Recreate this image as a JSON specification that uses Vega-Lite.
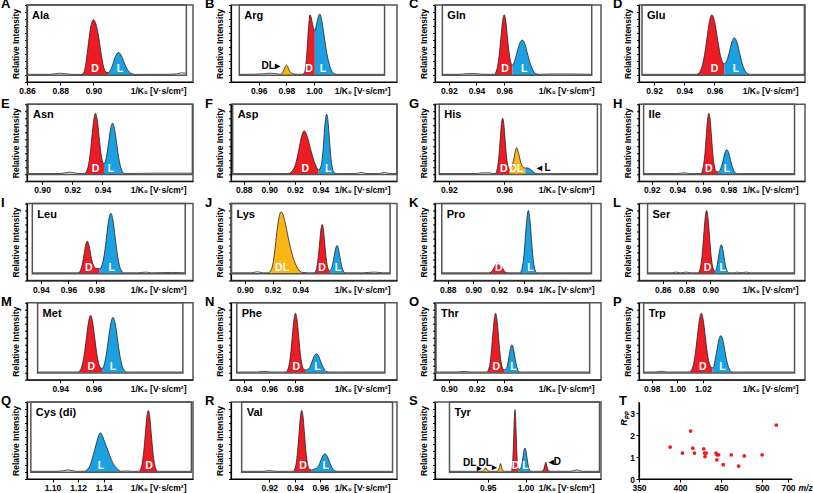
{
"$schema":"https://vega.github.io/schema/vega-lite/v6.json",
"background":"white",
"padding":{"left":0,"top":-3,"right":0,"bottom":0},
"config":{
 "font":"Liberation Sans",
 "view":{"stroke":"#555","strokeWidth":1.5},
 "axis":{"domain":true,"domainColor":"#000","domainWidth":1.2,"tickColor":"#000","labelColor":"#000","titleColor":"#000","labelFontWeight":"bold","titleFontWeight":"bold","labelFontSize":8.5,"titleFontSize":8.5,"grid":false,"labelFont":"Liberation Sans","titleFont":"Liberation Sans"},
 "axisX":{"tickSize":3,"labelPadding":1.5,"titleX":159,"titleY":4.5,"titleAlign":"right","titleBaseline":"top","labelFlush":false},
 "axisY":{"labels":false,"tickSize":2.5,"tickCount":11,"titlePadding":4},
 "title":{"fontSize":13,"fontWeight":"bold","font":"Liberation Sans","anchor":"start","frame":"group","dx":-26,"offset":-7,"baseline":"alphabetic","color":"#000"},
 "text":{"font":"Liberation Sans","fontWeight":"bold"},
 "rect":{"fillOpacity":0,"stroke":"#555","strokeWidth":1.5}
},
"columns":4,
"spacing":{"row":22.25,"column":38},
"bounds":"flush",
"resolve":{"scale":{"x":"independent","y":"independent"}},
"datasets":{
"tr":[
{"p":"A","x":0.86,"y":1},{"p":"A","x":0.874,"y":1},{"p":"A","x":0.88,"y":2.5},{"p":"A","x":0.886,"y":1},{"p":"A","x":0.8925,"y":0.8},
{"p":"A","x":0.8925,"y":0.8,"s":"D"},{"p":"A","x":0.894,"y":3,"s":"D"},{"p":"A","x":0.8955,"y":17,"s":"D"},{"p":"A","x":0.897,"y":45,"s":"D"},{"p":"A","x":0.8985,"y":70,"s":"D"},{"p":"A","x":0.9,"y":79,"s":"D"},{"p":"A","x":0.9015,"y":73,"s":"D"},{"p":"A","x":0.903,"y":57,"s":"D"},{"p":"A","x":0.9045,"y":33,"s":"D"},{"p":"A","x":0.906,"y":13,"s":"D"},{"p":"A","x":0.9075,"y":4.5,"s":"D"},{"p":"A","x":0.9088,"y":3.5,"s":"D"},
{"p":"A","x":0.9088,"y":3.5,"s":"L"},{"p":"A","x":0.91,"y":6,"s":"L"},{"p":"A","x":0.9115,"y":14,"s":"L"},{"p":"A","x":0.913,"y":25,"s":"L"},{"p":"A","x":0.9152,"y":32,"s":"L"},{"p":"A","x":0.9172,"y":26,"s":"L"},{"p":"A","x":0.919,"y":15,"s":"L"},{"p":"A","x":0.921,"y":6,"s":"L"},{"p":"A","x":0.923,"y":2,"s":"L"},{"p":"A","x":0.925,"y":0.8,"s":"L"},
{"p":"A","x":0.935,"y":1},{"p":"A","x":0.946,"y":1},{"p":"A","x":0.95,"y":1.5},{"p":"A","x":0.953,"y":3},{"p":"A","x":0.956,"y":2.5},

{"p":"B","x":0.946,"y":1},{"p":"B","x":0.955,"y":1},{"p":"B","x":0.962,"y":1.5},{"p":"B","x":0.968,"y":2.5},{"p":"B","x":0.974,"y":1.5},
{"p":"B","x":0.9757,"y":1,"s":"DL"},{"p":"B","x":0.977,"y":2.5,"s":"DL"},{"p":"B","x":0.978,"y":6,"s":"DL"},{"p":"B","x":0.979,"y":11,"s":"DL"},{"p":"B","x":0.98,"y":14,"s":"DL"},{"p":"B","x":0.981,"y":12,"s":"DL"},{"p":"B","x":0.982,"y":7,"s":"DL"},{"p":"B","x":0.9835,"y":3,"s":"DL"},{"p":"B","x":0.9855,"y":1.5,"s":"DL"},{"p":"B","x":0.9875,"y":1,"s":"DL"},
{"p":"B","x":0.9915,"y":1,"s":"D"},{"p":"B","x":0.9932,"y":4,"s":"D"},{"p":"B","x":0.9947,"y":28,"s":"D"},{"p":"B","x":0.9957,"y":58,"s":"D"},{"p":"B","x":0.9964,"y":76,"s":"D"},{"p":"B","x":0.997,"y":86,"s":"D"},{"p":"B","x":0.998,"y":82,"s":"D"},{"p":"B","x":0.9992,"y":70,"s":"D"},{"p":"B","x":1.0006,"y":63,"s":"D"},
{"p":"B","x":1.0006,"y":63,"s":"L"},{"p":"B","x":1.002,"y":74,"s":"L"},{"p":"B","x":1.0034,"y":85,"s":"L"},{"p":"B","x":1.0043,"y":87,"s":"L"},{"p":"B","x":1.0055,"y":79,"s":"L"},{"p":"B","x":1.007,"y":60,"s":"L"},{"p":"B","x":1.0085,"y":40,"s":"L"},{"p":"B","x":1.0102,"y":22,"s":"L"},{"p":"B","x":1.0123,"y":8,"s":"L"},{"p":"B","x":1.0145,"y":2,"s":"L"},{"p":"B","x":1.016,"y":1,"s":"L"},
{"p":"B","x":1.03,"y":1},{"p":"B","x":1.051,"y":1},

{"p":"C","x":0.9153,"y":1},{"p":"C","x":0.928,"y":1},{"p":"C","x":0.933,"y":2},{"p":"C","x":0.9395,"y":2},{"p":"C","x":0.944,"y":1},
{"p":"C","x":0.9528,"y":1,"s":"D"},{"p":"C","x":0.954,"y":4,"s":"D"},{"p":"C","x":0.9552,"y":12,"s":"D"},{"p":"C","x":0.9564,"y":28,"s":"D"},{"p":"C","x":0.9576,"y":52,"s":"D"},{"p":"C","x":0.9588,"y":76,"s":"D"},{"p":"C","x":0.96,"y":86,"s":"D"},{"p":"C","x":0.9612,"y":77,"s":"D"},{"p":"C","x":0.9624,"y":53,"s":"D"},{"p":"C","x":0.9636,"y":31,"s":"D"},{"p":"C","x":0.9648,"y":18,"s":"D"},{"p":"C","x":0.966,"y":14,"s":"D"},
{"p":"C","x":0.966,"y":14,"s":"L"},{"p":"C","x":0.9672,"y":18,"s":"L"},{"p":"C","x":0.9691,"y":31,"s":"L"},{"p":"C","x":0.971,"y":44,"s":"L"},{"p":"C","x":0.973,"y":50,"s":"L"},{"p":"C","x":0.975,"y":44,"s":"L"},{"p":"C","x":0.9769,"y":30,"s":"L"},{"p":"C","x":0.9789,"y":16,"s":"L"},{"p":"C","x":0.9808,"y":7,"s":"L"},{"p":"C","x":0.9828,"y":2,"s":"L"},{"p":"C","x":0.9848,"y":1,"s":"L"},
{"p":"C","x":0.995,"y":1.5},{"p":"C","x":1.005,"y":1.5},{"p":"C","x":1.0233,"y":1},

{"p":"D","x":0.912,"y":1},{"p":"D","x":0.93,"y":1},
{"p":"D","x":0.9484,"y":1,"s":"D"},{"p":"D","x":0.95005,"y":3.8,"s":"D"},{"p":"D","x":0.9517,"y":11.6,"s":"D"},{"p":"D","x":0.95335,"y":28,"s":"D"},{"p":"D","x":0.955,"y":52,"s":"D"},{"p":"D","x":0.95665,"y":76,"s":"D"},{"p":"D","x":0.9583,"y":86,"s":"D"},{"p":"D","x":0.96015,"y":76,"s":"D"},{"p":"D","x":0.962,"y":52,"s":"D"},{"p":"D","x":0.96385,"y":29,"s":"D"},{"p":"D","x":0.9657,"y":17,"s":"D"},{"p":"D","x":0.9665,"y":16,"s":"D"},
{"p":"D","x":0.9665,"y":16,"s":"L"},{"p":"D","x":0.9681,"y":20,"s":"L"},{"p":"D","x":0.9698,"y":32,"s":"L"},{"p":"D","x":0.9715,"y":47,"s":"L"},{"p":"D","x":0.9732,"y":53,"s":"L"},{"p":"D","x":0.9749,"y":47,"s":"L"},{"p":"D","x":0.9766,"y":32,"s":"L"},{"p":"D","x":0.9783,"y":17,"s":"L"},{"p":"D","x":0.98,"y":7,"s":"L"},{"p":"D","x":0.9817,"y":2.3,"s":"L"},{"p":"D","x":0.9834,"y":1,"s":"L"},
{"p":"D","x":1.0,"y":1},{"p":"D","x":1.0196,"y":1},

{"p":"E","x":0.8907,"y":1},{"p":"E","x":0.912,"y":1},{"p":"E","x":0.9185,"y":3},{"p":"E","x":0.924,"y":1},
{"p":"E","x":0.9282,"y":1,"s":"D"},{"p":"E","x":0.9294,"y":3.8,"s":"D"},{"p":"E","x":0.9306,"y":12,"s":"D"},{"p":"E","x":0.9318,"y":28,"s":"D"},{"p":"E","x":0.933,"y":53,"s":"D"},{"p":"E","x":0.9342,"y":77,"s":"D"},{"p":"E","x":0.9354,"y":87,"s":"D"},{"p":"E","x":0.9366,"y":77,"s":"D"},{"p":"E","x":0.9378,"y":53,"s":"D"},{"p":"E","x":0.939,"y":30,"s":"D"},{"p":"E","x":0.9402,"y":17,"s":"D"},{"p":"E","x":0.941,"y":15,"s":"D"},
{"p":"E","x":0.941,"y":15,"s":"L"},{"p":"E","x":0.9426,"y":24,"s":"L"},{"p":"E","x":0.944,"y":44,"s":"L"},{"p":"E","x":0.94535,"y":64,"s":"L"},{"p":"E","x":0.9467,"y":73,"s":"L"},{"p":"E","x":0.94805,"y":64,"s":"L"},{"p":"E","x":0.9494,"y":44,"s":"L"},{"p":"E","x":0.95075,"y":24,"s":"L"},{"p":"E","x":0.9521,"y":10,"s":"L"},{"p":"E","x":0.95345,"y":3,"s":"L"},{"p":"E","x":0.9548,"y":1,"s":"L"},
{"p":"E","x":0.975,"y":1.5},{"p":"E","x":0.9996,"y":1.5},

{"p":"F","x":0.8713,"y":1},{"p":"F","x":0.905,"y":1},
{"p":"F","x":0.9154,"y":1,"s":"D"},{"p":"F","x":0.918,"y":5,"s":"D"},{"p":"F","x":0.9205,"y":14,"s":"D"},{"p":"F","x":0.923,"y":34,"s":"D"},{"p":"F","x":0.925,"y":52,"s":"D"},{"p":"F","x":0.9274,"y":62,"s":"D"},{"p":"F","x":0.9295,"y":55,"s":"D"},{"p":"F","x":0.932,"y":38,"s":"D"},{"p":"F","x":0.9345,"y":22,"s":"D"},{"p":"F","x":0.937,"y":10,"s":"D"},{"p":"F","x":0.9385,"y":6,"s":"D"},
{"p":"F","x":0.9385,"y":6,"s":"L"},{"p":"F","x":0.9407,"y":13,"s":"L"},{"p":"F","x":0.9418,"y":28,"s":"L"},{"p":"F","x":0.9428,"y":52,"s":"L"},{"p":"F","x":0.94385,"y":76,"s":"L"},{"p":"F","x":0.9449,"y":86,"s":"L"},{"p":"F","x":0.94595,"y":76,"s":"L"},{"p":"F","x":0.947,"y":52,"s":"L"},{"p":"F","x":0.948,"y":28,"s":"L"},{"p":"F","x":0.9491,"y":12,"s":"L"},{"p":"F","x":0.9502,"y":4,"s":"L"},{"p":"F","x":0.9525,"y":1,"s":"L"},
{"p":"F","x":0.968,"y":1},{"p":"F","x":0.9718,"y":2.5},{"p":"F","x":0.976,"y":1},{"p":"F","x":0.986,"y":1},{"p":"F","x":0.99,"y":2.5},{"p":"F","x":0.994,"y":1},{"p":"F","x":1.0,"y":1},

{"p":"G","x":0.9131,"y":1},{"p":"G","x":0.94,"y":1},{"p":"G","x":0.944,"y":2},{"p":"G","x":0.949,"y":2},{"p":"G","x":0.952,"y":1},
{"p":"G","x":0.9535,"y":1,"s":"D"},{"p":"G","x":0.9544,"y":3.5,"s":"D"},{"p":"G","x":0.9553,"y":11,"s":"D"},{"p":"G","x":0.9562,"y":26,"s":"D"},{"p":"G","x":0.9571,"y":49,"s":"D"},{"p":"G","x":0.958,"y":71,"s":"D"},{"p":"G","x":0.9589,"y":80,"s":"D"},{"p":"G","x":0.9598,"y":71,"s":"D"},{"p":"G","x":0.9607,"y":49,"s":"D"},{"p":"G","x":0.9616,"y":27,"s":"D"},{"p":"G","x":0.9625,"y":14,"s":"D"},{"p":"G","x":0.9634,"y":8,"s":"D"},{"p":"G","x":0.964,"y":6,"s":"D"},
{"p":"G","x":0.964,"y":6,"s":"DL"},{"p":"G","x":0.9652,"y":9,"s":"DL"},{"p":"G","x":0.9663,"y":16,"s":"DL"},{"p":"G","x":0.9674,"y":26,"s":"DL"},{"p":"G","x":0.9682,"y":34,"s":"DL"},{"p":"G","x":0.9689,"y":38,"s":"DL"},{"p":"G","x":0.9697,"y":35,"s":"DL"},{"p":"G","x":0.9708,"y":27,"s":"DL"},{"p":"G","x":0.972,"y":17,"s":"DL"},{"p":"G","x":0.9732,"y":11,"s":"DL"},{"p":"G","x":0.9745,"y":9,"s":"DL"},{"p":"G","x":0.9753,"y":9,"s":"DL"},
{"p":"G","x":0.9753,"y":9,"s":"L"},{"p":"G","x":0.977,"y":9,"s":"L"},{"p":"G","x":0.979,"y":7,"s":"L"},{"p":"G","x":0.981,"y":3.5,"s":"L"},{"p":"G","x":0.983,"y":1,"s":"L"},{"p":"G","x":0.985,"y":0.7,"s":"L"},
{"p":"G","x":1.0,"y":1},{"p":"G","x":1.0274,"y":1},

{"p":"H","x":0.9136,"y":1},{"p":"H","x":0.94,"y":1},{"p":"H","x":0.9452,"y":2},{"p":"H","x":0.95,"y":1},
{"p":"H","x":0.9584,"y":1,"s":"D"},{"p":"H","x":0.95945,"y":4,"s":"D"},{"p":"H","x":0.9605,"y":12.6,"s":"D"},{"p":"H","x":0.96155,"y":28,"s":"D"},{"p":"H","x":0.9626,"y":53,"s":"D"},{"p":"H","x":0.96365,"y":77,"s":"D"},{"p":"H","x":0.9647,"y":87,"s":"D"},{"p":"H","x":0.96575,"y":77,"s":"D"},{"p":"H","x":0.9668,"y":53,"s":"D"},{"p":"H","x":0.96785,"y":28,"s":"D"},{"p":"H","x":0.9689,"y":13,"s":"D"},{"p":"H","x":0.96995,"y":5.5,"s":"D"},{"p":"H","x":0.971,"y":3.5,"s":"D"},{"p":"H","x":0.972,"y":3,"s":"D"},
{"p":"H","x":0.972,"y":3,"s":"L"},{"p":"H","x":0.9732,"y":5,"s":"L"},{"p":"H","x":0.9746,"y":11.4,"s":"L"},{"p":"H","x":0.976,"y":21,"s":"L"},{"p":"H","x":0.9774,"y":31,"s":"L"},{"p":"H","x":0.9788,"y":35,"s":"L"},{"p":"H","x":0.9802,"y":31,"s":"L"},{"p":"H","x":0.9816,"y":21,"s":"L"},{"p":"H","x":0.983,"y":11.4,"s":"L"},{"p":"H","x":0.9844,"y":4.7,"s":"L"},{"p":"H","x":0.9858,"y":1.5,"s":"L"},{"p":"H","x":0.9872,"y":1,"s":"L"},
{"p":"H","x":1.0,"y":1},{"p":"H","x":1.0318,"y":1},

{"p":"I","x":0.93385,"y":1},{"p":"I","x":0.96,"y":1},
{"p":"I","x":0.9667,"y":1,"s":"D"},{"p":"I","x":0.96785,"y":2,"s":"D"},{"p":"I","x":0.969,"y":6.2,"s":"D"},{"p":"I","x":0.97015,"y":15,"s":"D"},{"p":"I","x":0.9713,"y":28,"s":"D"},{"p":"I","x":0.97245,"y":41,"s":"D"},{"p":"I","x":0.9736,"y":46,"s":"D"},{"p":"I","x":0.97475,"y":41,"s":"D"},{"p":"I","x":0.9759,"y":29,"s":"D"},{"p":"I","x":0.977,"y":18,"s":"D"},{"p":"I","x":0.9785,"y":10,"s":"D"},{"p":"I","x":0.98,"y":7,"s":"D"},{"p":"I","x":0.9825,"y":7,"s":"D"},
{"p":"I","x":0.9825,"y":7,"s":"L"},{"p":"I","x":0.9844,"y":13,"s":"L"},{"p":"I","x":0.98595,"y":28,"s":"L"},{"p":"I","x":0.9875,"y":52,"s":"L"},{"p":"I","x":0.98905,"y":76,"s":"L"},{"p":"I","x":0.9906,"y":86,"s":"L"},{"p":"I","x":0.99215,"y":76,"s":"L"},{"p":"I","x":0.9937,"y":52,"s":"L"},{"p":"I","x":0.99525,"y":28,"s":"L"},{"p":"I","x":0.9968,"y":11.6,"s":"L"},{"p":"I","x":0.99835,"y":3.8,"s":"L"},{"p":"I","x":0.9999,"y":1,"s":"L"},
{"p":"I","x":1.01,"y":1},{"p":"I","x":1.016,"y":2},{"p":"I","x":1.02,"y":1},{"p":"I","x":1.035,"y":1.5},{"p":"I","x":1.0444,"y":1},

{"p":"J","x":0.8903,"y":1},{"p":"J","x":0.905,"y":1},{"p":"J","x":0.909,"y":2.5},{"p":"J","x":0.913,"y":1},
{"p":"J","x":0.917,"y":1,"s":"DL"},{"p":"J","x":0.919,"y":5,"s":"DL"},{"p":"J","x":0.9205,"y":16,"s":"DL"},{"p":"J","x":0.922,"y":38,"s":"DL"},{"p":"J","x":0.9235,"y":65,"s":"DL"},{"p":"J","x":0.925,"y":83,"s":"DL"},{"p":"J","x":0.9262,"y":88,"s":"DL"},{"p":"J","x":0.9275,"y":85,"s":"DL"},{"p":"J","x":0.929,"y":74,"s":"DL"},{"p":"J","x":0.931,"y":55,"s":"DL"},{"p":"J","x":0.933,"y":37,"s":"DL"},{"p":"J","x":0.935,"y":22,"s":"DL"},{"p":"J","x":0.937,"y":12,"s":"DL"},{"p":"J","x":0.939,"y":5,"s":"DL"},{"p":"J","x":0.9415,"y":1.5,"s":"DL"},
{"p":"J","x":0.946,"y":1},
{"p":"J","x":0.9502,"y":1,"s":"D"},{"p":"J","x":0.95115,"y":3,"s":"D"},{"p":"J","x":0.9521,"y":9.5,"s":"D"},{"p":"J","x":0.95305,"y":23,"s":"D"},{"p":"J","x":0.954,"y":42,"s":"D"},{"p":"J","x":0.95495,"y":62,"s":"D"},{"p":"J","x":0.9559,"y":70,"s":"D"},{"p":"J","x":0.95685,"y":62,"s":"D"},{"p":"J","x":0.9578,"y":42,"s":"D"},{"p":"J","x":0.95875,"y":23,"s":"D"},{"p":"J","x":0.9597,"y":10,"s":"D"},{"p":"J","x":0.96065,"y":5,"s":"D"},{"p":"J","x":0.9614,"y":4,"s":"D"},
{"p":"J","x":0.9614,"y":4,"s":"L"},{"p":"J","x":0.96235,"y":6,"s":"L"},{"p":"J","x":0.96345,"y":13,"s":"L"},{"p":"J","x":0.9645,"y":24,"s":"L"},{"p":"J","x":0.96555,"y":35,"s":"L"},{"p":"J","x":0.9666,"y":40,"s":"L"},{"p":"J","x":0.96765,"y":35,"s":"L"},{"p":"J","x":0.9687,"y":24,"s":"L"},{"p":"J","x":0.96975,"y":13,"s":"L"},{"p":"J","x":0.9708,"y":5.4,"s":"L"},{"p":"J","x":0.97185,"y":1.8,"s":"L"},{"p":"J","x":0.9729,"y":1,"s":"L"},
{"p":"J","x":0.985,"y":1},{"p":"J","x":0.9936,"y":2},{"p":"J","x":1.0,"y":1},{"p":"J","x":1.005,"y":1},

{"p":"K","x":0.8753,"y":1},{"p":"K","x":0.9,"y":1},
{"p":"K","x":0.912,"y":1,"s":"D"},{"p":"K","x":0.91325,"y":1.5,"s":"D"},{"p":"K","x":0.9145,"y":3,"s":"D"},{"p":"K","x":0.91575,"y":6.5,"s":"D"},{"p":"K","x":0.917,"y":11,"s":"D"},{"p":"K","x":0.91825,"y":14,"s":"D"},{"p":"K","x":0.9195,"y":15,"s":"D"},{"p":"K","x":0.92075,"y":14,"s":"D"},{"p":"K","x":0.922,"y":11,"s":"D"},{"p":"K","x":0.92325,"y":6.5,"s":"D"},{"p":"K","x":0.9245,"y":3,"s":"D"},{"p":"K","x":0.92575,"y":1.5,"s":"D"},{"p":"K","x":0.927,"y":1,"s":"D"},
{"p":"K","x":0.9365,"y":1,"s":"L"},{"p":"K","x":0.9376,"y":4,"s":"L"},{"p":"K","x":0.9387,"y":12,"s":"L"},{"p":"K","x":0.9398,"y":29,"s":"L"},{"p":"K","x":0.9409,"y":55,"s":"L"},{"p":"K","x":0.942,"y":79,"s":"L"},{"p":"K","x":0.9431,"y":90,"s":"L"},{"p":"K","x":0.9442,"y":79,"s":"L"},{"p":"K","x":0.9453,"y":55,"s":"L"},{"p":"K","x":0.9464,"y":29,"s":"L"},{"p":"K","x":0.9475,"y":12,"s":"L"},{"p":"K","x":0.9486,"y":4,"s":"L"},{"p":"K","x":0.9497,"y":1,"s":"L"},
{"p":"K","x":0.97,"y":1},{"p":"K","x":0.9925,"y":1},

{"p":"L","x":0.8472,"y":1},{"p":"L","x":0.868,"y":1},{"p":"L","x":0.8711,"y":2},{"p":"L","x":0.875,"y":1},{"p":"L","x":0.8797,"y":2},{"p":"L","x":0.884,"y":1},
{"p":"L","x":0.8898,"y":1,"s":"D"},{"p":"L","x":0.891,"y":4,"s":"D"},{"p":"L","x":0.8922,"y":12,"s":"D"},{"p":"L","x":0.8934,"y":29,"s":"D"},{"p":"L","x":0.8946,"y":55,"s":"D"},{"p":"L","x":0.8958,"y":79,"s":"D"},{"p":"L","x":0.897,"y":90,"s":"D"},{"p":"L","x":0.8982,"y":79,"s":"D"},{"p":"L","x":0.8994,"y":55,"s":"D"},{"p":"L","x":0.9006,"y":29,"s":"D"},{"p":"L","x":0.9018,"y":12,"s":"D"},{"p":"L","x":0.903,"y":5,"s":"D"},{"p":"L","x":0.904,"y":3,"s":"D"},
{"p":"L","x":0.904,"y":3,"s":"L"},{"p":"L","x":0.905,"y":5.5,"s":"L"},{"p":"L","x":0.9061,"y":13.3,"s":"L"},{"p":"L","x":0.9072,"y":25,"s":"L"},{"p":"L","x":0.9083,"y":36,"s":"L"},{"p":"L","x":0.9094,"y":41,"s":"L"},{"p":"L","x":0.9105,"y":36,"s":"L"},{"p":"L","x":0.9116,"y":25,"s":"L"},{"p":"L","x":0.9127,"y":13.3,"s":"L"},{"p":"L","x":0.9138,"y":5.5,"s":"L"},{"p":"L","x":0.9149,"y":1.8,"s":"L"},{"p":"L","x":0.916,"y":1,"s":"L"},
{"p":"L","x":0.921,"y":1},{"p":"L","x":0.923,"y":2},{"p":"L","x":0.926,"y":1},{"p":"L","x":0.9304,"y":2},{"p":"L","x":0.934,"y":1},{"p":"L","x":0.9711,"y":1},

{"p":"M","x":0.9264,"y":1},{"p":"M","x":0.94,"y":1},
{"p":"M","x":0.9508,"y":1,"s":"D"},{"p":"M","x":0.95205,"y":3.6,"s":"D"},{"p":"M","x":0.9533,"y":11,"s":"D"},{"p":"M","x":0.95455,"y":27,"s":"D"},{"p":"M","x":0.9558,"y":50,"s":"D"},{"p":"M","x":0.95705,"y":72,"s":"D"},{"p":"M","x":0.9583,"y":82,"s":"D"},{"p":"M","x":0.95955,"y":72,"s":"D"},{"p":"M","x":0.9608,"y":50,"s":"D"},{"p":"M","x":0.96205,"y":27,"s":"D"},{"p":"M","x":0.9633,"y":12,"s":"D"},{"p":"M","x":0.9645,"y":7,"s":"D"},{"p":"M","x":0.9652,"y":6,"s":"D"},
{"p":"M","x":0.9652,"y":6,"s":"L"},{"p":"M","x":0.9664,"y":10.7,"s":"L"},{"p":"M","x":0.96775,"y":26,"s":"L"},{"p":"M","x":0.9691,"y":48,"s":"L"},{"p":"M","x":0.97045,"y":70,"s":"L"},{"p":"M","x":0.9718,"y":79,"s":"L"},{"p":"M","x":0.97315,"y":70,"s":"L"},{"p":"M","x":0.9745,"y":48,"s":"L"},{"p":"M","x":0.97585,"y":26,"s":"L"},{"p":"M","x":0.9772,"y":10.7,"s":"L"},{"p":"M","x":0.97855,"y":3.5,"s":"L"},{"p":"M","x":0.9799,"y":1,"s":"L"},
{"p":"M","x":0.99,"y":1},{"p":"M","x":1.0139,"y":1},

{"p":"N","x":0.9345,"y":1},{"p":"N","x":0.95,"y":1},{"p":"N","x":0.9557,"y":2},{"p":"N","x":0.962,"y":1},
{"p":"N","x":0.973,"y":1,"s":"D"},{"p":"N","x":0.97425,"y":3.7,"s":"D"},{"p":"N","x":0.9755,"y":11.5,"s":"D"},{"p":"N","x":0.97675,"y":27.6,"s":"D"},{"p":"N","x":0.978,"y":52,"s":"D"},{"p":"N","x":0.97925,"y":75,"s":"D"},{"p":"N","x":0.9805,"y":85,"s":"D"},{"p":"N","x":0.98175,"y":75,"s":"D"},{"p":"N","x":0.983,"y":52,"s":"D"},{"p":"N","x":0.98425,"y":28,"s":"D"},{"p":"N","x":0.9855,"y":12.5,"s":"D"},{"p":"N","x":0.98675,"y":5.5,"s":"D"},{"p":"N","x":0.9885,"y":4,"s":"D"},
{"p":"N","x":0.9885,"y":4,"s":"L"},{"p":"N","x":0.9903,"y":4.8,"s":"L"},{"p":"N","x":0.99195,"y":8.8,"s":"L"},{"p":"N","x":0.9936,"y":16.4,"s":"L"},{"p":"N","x":0.99525,"y":24,"s":"L"},{"p":"N","x":0.9969,"y":27,"s":"L"},{"p":"N","x":0.99855,"y":24,"s":"L"},{"p":"N","x":1.0002,"y":16.4,"s":"L"},{"p":"N","x":1.00185,"y":8.8,"s":"L"},{"p":"N","x":1.0035,"y":3.7,"s":"L"},{"p":"N","x":1.00515,"y":1.2,"s":"L"},{"p":"N","x":1.0068,"y":1,"s":"L"},
{"p":"N","x":1.02,"y":1},{"p":"N","x":1.0505,"y":1},

{"p":"O","x":0.8907,"y":1},{"p":"O","x":0.905,"y":1},{"p":"O","x":0.9111,"y":2},{"p":"O","x":0.916,"y":1},
{"p":"O","x":0.9275,"y":1,"s":"D"},{"p":"O","x":0.92855,"y":3.7,"s":"D"},{"p":"O","x":0.9296,"y":11.5,"s":"D"},{"p":"O","x":0.93065,"y":28,"s":"D"},{"p":"O","x":0.9317,"y":52,"s":"D"},{"p":"O","x":0.93275,"y":75,"s":"D"},{"p":"O","x":0.9338,"y":85,"s":"D"},{"p":"O","x":0.93485,"y":75,"s":"D"},{"p":"O","x":0.9359,"y":52,"s":"D"},{"p":"O","x":0.93695,"y":28,"s":"D"},{"p":"O","x":0.938,"y":12.5,"s":"D"},{"p":"O","x":0.939,"y":6,"s":"D"},{"p":"O","x":0.94,"y":4,"s":"D"},
{"p":"O","x":0.94,"y":4,"s":"L"},{"p":"O","x":0.9416,"y":6,"s":"L"},{"p":"O","x":0.9426,"y":13,"s":"L"},{"p":"O","x":0.9436,"y":24,"s":"L"},{"p":"O","x":0.9446,"y":35,"s":"L"},{"p":"O","x":0.9456,"y":40,"s":"L"},{"p":"O","x":0.9466,"y":35,"s":"L"},{"p":"O","x":0.9476,"y":24,"s":"L"},{"p":"O","x":0.9486,"y":13,"s":"L"},{"p":"O","x":0.9496,"y":5.4,"s":"L"},{"p":"O","x":0.9506,"y":1.8,"s":"L"},{"p":"O","x":0.9516,"y":1,"s":"L"},
{"p":"O","x":0.97,"y":1},{"p":"O","x":1.0018,"y":1},

{"p":"P","x":0.97365,"y":1},{"p":"P","x":0.982,"y":1},{"p":"P","x":0.987,"y":2},{"p":"P","x":0.992,"y":1},
{"p":"P","x":1.0095,"y":1,"s":"D"},{"p":"P","x":1.01105,"y":3.7,"s":"D"},{"p":"P","x":1.0126,"y":11.5,"s":"D"},{"p":"P","x":1.01415,"y":28,"s":"D"},{"p":"P","x":1.0157,"y":52,"s":"D"},{"p":"P","x":1.01725,"y":75,"s":"D"},{"p":"P","x":1.0188,"y":85,"s":"D"},{"p":"P","x":1.02035,"y":75,"s":"D"},{"p":"P","x":1.0219,"y":52,"s":"D"},{"p":"P","x":1.02345,"y":29,"s":"D"},{"p":"P","x":1.025,"y":14,"s":"D"},{"p":"P","x":1.0265,"y":8,"s":"D"},{"p":"P","x":1.0275,"y":7,"s":"D"},
{"p":"P","x":1.0275,"y":7,"s":"L"},{"p":"P","x":1.0285,"y":9,"s":"L"},{"p":"P","x":1.02945,"y":17,"s":"L"},{"p":"P","x":1.031,"y":32,"s":"L"},{"p":"P","x":1.03255,"y":47,"s":"L"},{"p":"P","x":1.0341,"y":53,"s":"L"},{"p":"P","x":1.03565,"y":47,"s":"L"},{"p":"P","x":1.0372,"y":32,"s":"L"},{"p":"P","x":1.03875,"y":17,"s":"L"},{"p":"P","x":1.0403,"y":7,"s":"L"},{"p":"P","x":1.04185,"y":2.3,"s":"L"},{"p":"P","x":1.0434,"y":1,"s":"L"},
{"p":"P","x":1.06,"y":1},{"p":"P","x":1.0918,"y":1},

{"p":"Q","x":1.083,"y":1},{"p":"Q","x":1.105,"y":1},{"p":"Q","x":1.1125,"y":3},{"p":"Q","x":1.118,"y":1},
{"p":"Q","x":1.1245,"y":1,"s":"L"},{"p":"Q","x":1.127,"y":3,"s":"L"},{"p":"Q","x":1.1295,"y":10,"s":"L"},{"p":"Q","x":1.132,"y":25,"s":"L"},{"p":"Q","x":1.1345,"y":42,"s":"L"},{"p":"Q","x":1.1365,"y":54,"s":"L"},{"p":"Q","x":1.1375,"y":56,"s":"L"},{"p":"Q","x":1.139,"y":52,"s":"L"},{"p":"Q","x":1.141,"y":42,"s":"L"},{"p":"Q","x":1.1435,"y":30,"s":"L"},{"p":"Q","x":1.146,"y":18,"s":"L"},{"p":"Q","x":1.1485,"y":9,"s":"L"},{"p":"Q","x":1.151,"y":4,"s":"L"},{"p":"Q","x":1.1535,"y":1,"s":"L"},
{"p":"Q","x":1.158,"y":1.5},{"p":"Q","x":1.162,"y":1},
{"p":"Q","x":1.1678,"y":1,"s":"D"},{"p":"Q","x":1.169,"y":4,"s":"D"},{"p":"Q","x":1.1702,"y":12,"s":"D"},{"p":"Q","x":1.1714,"y":29,"s":"D"},{"p":"Q","x":1.1726,"y":53,"s":"D"},{"p":"Q","x":1.1738,"y":78,"s":"D"},{"p":"Q","x":1.175,"y":88,"s":"D"},{"p":"Q","x":1.1762,"y":78,"s":"D"},{"p":"Q","x":1.1774,"y":53,"s":"D"},{"p":"Q","x":1.1786,"y":29,"s":"D"},{"p":"Q","x":1.1798,"y":12,"s":"D"},{"p":"Q","x":1.181,"y":4,"s":"D"},{"p":"Q","x":1.1822,"y":1,"s":"D"},
{"p":"Q","x":1.19,"y":1},{"p":"Q","x":1.20875,"y":1},

{"p":"R","x":0.89835,"y":1},{"p":"R","x":0.915,"y":1},{"p":"R","x":0.92,"y":2},{"p":"R","x":0.925,"y":1},
{"p":"R","x":0.9388,"y":1,"s":"D"},{"p":"R","x":0.9399,"y":4,"s":"D"},{"p":"R","x":0.941,"y":12,"s":"D"},{"p":"R","x":0.9421,"y":29,"s":"D"},{"p":"R","x":0.9432,"y":53,"s":"D"},{"p":"R","x":0.9443,"y":78,"s":"D"},{"p":"R","x":0.9454,"y":88,"s":"D"},{"p":"R","x":0.9465,"y":78,"s":"D"},{"p":"R","x":0.9476,"y":53,"s":"D"},{"p":"R","x":0.9487,"y":29,"s":"D"},{"p":"R","x":0.9498,"y":12.5,"s":"D"},{"p":"R","x":0.9509,"y":5,"s":"D"},{"p":"R","x":0.952,"y":3.5,"s":"D"},{"p":"R","x":0.953,"y":3,"s":"D"},
{"p":"R","x":0.953,"y":3,"s":"L"},{"p":"R","x":0.9553,"y":4,"s":"L"},{"p":"R","x":0.95855,"y":8.5,"s":"L"},{"p":"R","x":0.9602,"y":16,"s":"L"},{"p":"R","x":0.96185,"y":23,"s":"L"},{"p":"R","x":0.9635,"y":26,"s":"L"},{"p":"R","x":0.96515,"y":23,"s":"L"},{"p":"R","x":0.9668,"y":16,"s":"L"},{"p":"R","x":0.96845,"y":8.5,"s":"L"},{"p":"R","x":0.9701,"y":3.5,"s":"L"},{"p":"R","x":0.97175,"y":1.2,"s":"L"},{"p":"R","x":0.9734,"y":1,"s":"L"},
{"p":"R","x":0.99,"y":1},{"p":"R","x":1.0165,"y":1},

{"p":"S","x":0.8992,"y":1},{"p":"S","x":0.93,"y":1},
{"p":"S","x":0.9412,"y":1,"s":"DL"},{"p":"S","x":0.9437,"y":1.5,"s":"DL"},{"p":"S","x":0.9455,"y":3.5,"s":"DL"},{"p":"S","x":0.9472,"y":6,"s":"DL"},{"p":"S","x":0.9489,"y":3.5,"s":"DL"},{"p":"S","x":0.9507,"y":1.5,"s":"DL"},{"p":"S","x":0.9532,"y":1,"s":"DL"},
{"p":"S","x":0.9615,"y":1,"s":"DL2"},{"p":"S","x":0.9635,"y":2,"s":"DL2"},{"p":"S","x":0.9651,"y":6,"s":"DL2"},{"p":"S","x":0.9668,"y":12,"s":"DL2"},{"p":"S","x":0.9685,"y":6,"s":"DL2"},{"p":"S","x":0.9701,"y":2,"s":"DL2"},{"p":"S","x":0.9721,"y":1,"s":"DL2"},
{"p":"S","x":0.9812,"y":1,"s":"D"},{"p":"S","x":0.982,"y":4,"s":"D"},{"p":"S","x":0.9828,"y":12,"s":"D"},{"p":"S","x":0.9836,"y":29,"s":"D"},{"p":"S","x":0.9844,"y":54,"s":"D"},{"p":"S","x":0.9852,"y":79,"s":"D"},{"p":"S","x":0.986,"y":89,"s":"D"},{"p":"S","x":0.9868,"y":79,"s":"D"},{"p":"S","x":0.9876,"y":54,"s":"D"},{"p":"S","x":0.9884,"y":29,"s":"D"},{"p":"S","x":0.9892,"y":13,"s":"D"},{"p":"S","x":0.99,"y":6,"s":"D"},{"p":"S","x":0.9908,"y":4,"s":"D"},
{"p":"S","x":0.9908,"y":4,"s":"L"},{"p":"S","x":0.9925,"y":4,"s":"L"},{"p":"S","x":0.9938,"y":5.5,"s":"L"},{"p":"S","x":0.99515,"y":11,"s":"L"},{"p":"S","x":0.9965,"y":20.6,"s":"L"},{"p":"S","x":0.99785,"y":30,"s":"L"},{"p":"S","x":0.9992,"y":34,"s":"L"},{"p":"S","x":1.00055,"y":30,"s":"L"},{"p":"S","x":1.0019,"y":20.6,"s":"L"},{"p":"S","x":1.00325,"y":11,"s":"L"},{"p":"S","x":1.0046,"y":4.6,"s":"L"},{"p":"S","x":1.00595,"y":1.5,"s":"L"},{"p":"S","x":1.0073,"y":1,"s":"L"},
{"p":"S","x":1.0208,"y":1,"s":"D2"},{"p":"S","x":1.0228,"y":2,"s":"D2"},{"p":"S","x":1.0245,"y":5,"s":"D2"},{"p":"S","x":1.0257,"y":10,"s":"D2"},{"p":"S","x":1.0268,"y":14,"s":"D2"},{"p":"S","x":1.0279,"y":10,"s":"D2"},{"p":"S","x":1.0291,"y":5,"s":"D2"},{"p":"S","x":1.0308,"y":2,"s":"D2"},{"p":"S","x":1.0328,"y":1,"s":"D2"},
{"p":"S","x":1.06,"y":1},{"p":"S","x":1.068,"y":3},{"p":"S","x":1.075,"y":1},{"p":"S","x":1.098,"y":1}
],
"lab":[
{"p":"A","x":0.901,"t":"D"},{"p":"A","x":0.916,"t":"L"},
{"p":"B","x":0.9964,"t":"D"},{"p":"B","x":1.0064,"t":"L"},
{"p":"C","x":0.9607,"t":"D"},{"p":"C","x":0.9745,"t":"L"},
{"p":"D","x":0.96,"t":"D"},{"p":"D","x":0.9743,"t":"L"},
{"p":"E","x":0.9354,"t":"D"},{"p":"E","x":0.9457,"t":"L"},
{"p":"F","x":0.9282,"t":"D"},{"p":"F","x":0.9462,"t":"L"},
{"p":"G","x":0.9598,"t":"D"},{"p":"G","x":0.9689,"t":"DL"},
{"p":"H","x":0.9647,"t":"D"},{"p":"H","x":0.9788,"t":"L"},
{"p":"I","x":0.9747,"t":"D"},{"p":"I","x":0.9912,"t":"L"},
{"p":"J","x":0.9269,"t":"DL"},{"p":"J","x":0.9559,"t":"D"},{"p":"J","x":0.9673,"t":"L"},
{"p":"K","x":0.92,"t":"D"},{"p":"K","x":0.9447,"t":"L"},
{"p":"L","x":0.8978,"t":"D"},{"p":"L","x":0.9106,"t":"L"},
{"p":"M","x":0.9588,"t":"D"},{"p":"M","x":0.9718,"t":"L"},
{"p":"N","x":0.9812,"t":"D"},{"p":"N","x":0.9978,"t":"L"},
{"p":"O","x":0.9344,"t":"D"},{"p":"O","x":0.9467,"t":"L"},
{"p":"P","x":1.02,"t":"D"},{"p":"P","x":1.0353,"t":"L"},
{"p":"Q","x":1.138,"t":"L"},{"p":"Q","x":1.1755,"t":"D"},
{"p":"R","x":0.9464,"t":"D"},{"p":"R","x":0.9642,"t":"L"},
{"p":"S","x":0.9868,"t":"D"},{"p":"S","x":1.0,"t":"L"}
],
"t":[
{"mz":388,"r":1.45},{"mz":403,"r":1.18},{"mz":413,"r":2.18},{"mz":415.6,"r":1.4},{"mz":417.7,"r":1.18},{"mz":429,"r":1.37},{"mz":430,"r":1.18},{"mz":432,"r":1.18},{"mz":430.5,"r":1.02},{"mz":444,"r":1.18},{"mz":445,"r":1.1},{"mz":447,"r":1.1},{"mz":445,"r":0.87},{"mz":452.7,"r":0.65},{"mz":462.5,"r":1.1},{"mz":471.5,"r":0.59},{"mz":478.4,"r":1.05},{"mz":501,"r":1.1},{"mz":610,"r":2.45}
]
},
"concat":[
{"width":166,"height":77,"title":"A","layer":[
{"data":{"name":"tr"},"transform":[{"filter":"datum.p=='A'&&datum.s"}],"mark":{"type":"area","interpolate":"monotone"},"encoding":{"x":{"field":"x","type":"quantitative","scale":{"domain":[0.86,0.956]},"axis":{"values":[0.86,0.88,0.9],"format":".2f","title":"1/K₀ [V·s/cm²]"}},"y":{"field":"y","type":"quantitative","scale":{"domain":[-0.5,100]},"stack":null,"axis":{"title":"Relative Intensity"}},"color":{"field":"s","type":"nominal","scale":{"domain":["D","L","DL","DL2","D2"],"range":["#ed1c24","#1ba1e2","#fbb616","#fbb616","#ed1c24"]},"legend":null}}},
{"data":{"name":"tr"},"transform":[{"filter":"datum.p=='A'"},{"aggregate":[{"op":"max","field":"y","as":"y"}],"groupby":["x"]}],"mark":{"type":"line","interpolate":"monotone","color":"#222","strokeWidth":0.8},"encoding":{"x":{"field":"x","type":"quantitative"},"y":{"field":"y","type":"quantitative"}}},
{"data":{"name":"lab"},"transform":[{"filter":"datum.p=='A'"}],"mark":{"type":"text","color":"#fff","fontSize":10.5,"dy":-3,"baseline":"alphabetic"},"encoding":{"x":{"field":"x","type":"quantitative"},"y":{"datum":-0.5},"text":{"field":"t"}}},
{"data":{"values":[{}]},"mark":{"type":"text","text":"Ala","align":"left","baseline":"top","dx":5,"dy":5,"fontSize":11},"encoding":{"x":{"datum":0.86},"y":{"datum":100}}},
{"data":{"values":[{}]},"mark":"rect","encoding":{"x":{"datum":0.86},"x2":{"datum":0.956},"y":{"datum":-0.5},"y2":{"datum":100}}}
]},
{"width":166,"height":77,"title":"B","layer":[
{"data":{"name":"tr"},"transform":[{"filter":"datum.p=='B'&&datum.s"}],"mark":{"type":"area","interpolate":"monotone"},"encoding":{"x":{"field":"x","type":"quantitative","scale":{"domain":[0.946,1.051]},"axis":{"values":[0.96,0.98,1.0],"format":".2f","title":"1/K₀ [V·s/cm²]"}},"y":{"field":"y","type":"quantitative","scale":{"domain":[-0.5,100]},"stack":null,"axis":{"title":"Relative Intensity"}},"color":{"field":"s","type":"nominal","scale":{"domain":["D","L","DL","DL2","D2"],"range":["#ed1c24","#1ba1e2","#fbb616","#fbb616","#ed1c24"]},"legend":null}}},
{"data":{"name":"tr"},"transform":[{"filter":"datum.p=='B'"},{"aggregate":[{"op":"max","field":"y","as":"y"}],"groupby":["x"]}],"mark":{"type":"line","interpolate":"monotone","color":"#222","strokeWidth":0.8},"encoding":{"x":{"field":"x","type":"quantitative"},"y":{"field":"y","type":"quantitative"}}},
{"data":{"name":"lab"},"transform":[{"filter":"datum.p=='B'"}],"mark":{"type":"text","color":"#fff","fontSize":10.5,"dy":-3,"baseline":"alphabetic"},"encoding":{"x":{"field":"x","type":"quantitative"},"y":{"datum":-0.5},"text":{"field":"t"}}},
{"data":{"values":[{}]},"mark":{"type":"text","text":"DL▸","fontSize":10,"baseline":"alphabetic"},"encoding":{"x":{"datum":0.9687},"y":{"datum":9}}},
{"data":{"values":[{}]},"mark":{"type":"text","text":"Arg","align":"left","baseline":"top","dx":5,"dy":5,"fontSize":11},"encoding":{"x":{"datum":0.946},"y":{"datum":100}}},
{"data":{"values":[{}]},"mark":"rect","encoding":{"x":{"datum":0.946},"x2":{"datum":1.051},"y":{"datum":-0.5},"y2":{"datum":100}}}
]},
{"width":166,"height":77,"title":"C","layer":[
{"data":{"name":"tr"},"transform":[{"filter":"datum.p=='C'&&datum.s"}],"mark":{"type":"area","interpolate":"monotone"},"encoding":{"x":{"field":"x","type":"quantitative","scale":{"domain":[0.9153,1.0233]},"axis":{"values":[0.92,0.94,0.96],"format":".2f","title":"1/K₀ [V·s/cm²]"}},"y":{"field":"y","type":"quantitative","scale":{"domain":[-0.5,100]},"stack":null,"axis":{"title":"Relative Intensity"}},"color":{"field":"s","type":"nominal","scale":{"domain":["D","L","DL","DL2","D2"],"range":["#ed1c24","#1ba1e2","#fbb616","#fbb616","#ed1c24"]},"legend":null}}},
{"data":{"name":"tr"},"transform":[{"filter":"datum.p=='C'"},{"aggregate":[{"op":"max","field":"y","as":"y"}],"groupby":["x"]}],"mark":{"type":"line","interpolate":"monotone","color":"#222","strokeWidth":0.8},"encoding":{"x":{"field":"x","type":"quantitative"},"y":{"field":"y","type":"quantitative"}}},
{"data":{"name":"lab"},"transform":[{"filter":"datum.p=='C'"}],"mark":{"type":"text","color":"#fff","fontSize":10.5,"dy":-3,"baseline":"alphabetic"},"encoding":{"x":{"field":"x","type":"quantitative"},"y":{"datum":-0.5},"text":{"field":"t"}}},
{"data":{"values":[{}]},"mark":{"type":"text","text":"Gln","align":"left","baseline":"top","dx":5,"dy":5,"fontSize":11},"encoding":{"x":{"datum":0.9153},"y":{"datum":100}}},
{"data":{"values":[{}]},"mark":"rect","encoding":{"x":{"datum":0.9153},"x2":{"datum":1.0233},"y":{"datum":-0.5},"y2":{"datum":100}}}
]},
{"width":166,"height":77,"title":"D","layer":[
{"data":{"name":"tr"},"transform":[{"filter":"datum.p=='D'&&datum.s"}],"mark":{"type":"area","interpolate":"monotone"},"encoding":{"x":{"field":"x","type":"quantitative","scale":{"domain":[0.912,1.0196]},"axis":{"values":[0.92,0.94,0.96],"format":".2f","title":"1/K₀ [V·s/cm²]"}},"y":{"field":"y","type":"quantitative","scale":{"domain":[-0.5,100]},"stack":null,"axis":{"title":"Relative Intensity"}},"color":{"field":"s","type":"nominal","scale":{"domain":["D","L","DL","DL2","D2"],"range":["#ed1c24","#1ba1e2","#fbb616","#fbb616","#ed1c24"]},"legend":null}}},
{"data":{"name":"tr"},"transform":[{"filter":"datum.p=='D'"},{"aggregate":[{"op":"max","field":"y","as":"y"}],"groupby":["x"]}],"mark":{"type":"line","interpolate":"monotone","color":"#222","strokeWidth":0.8},"encoding":{"x":{"field":"x","type":"quantitative"},"y":{"field":"y","type":"quantitative"}}},
{"data":{"name":"lab"},"transform":[{"filter":"datum.p=='D'"}],"mark":{"type":"text","color":"#fff","fontSize":10.5,"dy":-3,"baseline":"alphabetic"},"encoding":{"x":{"field":"x","type":"quantitative"},"y":{"datum":-0.5},"text":{"field":"t"}}},
{"data":{"values":[{}]},"mark":{"type":"text","text":"Glu","align":"left","baseline":"top","dx":5,"dy":5,"fontSize":11},"encoding":{"x":{"datum":0.912},"y":{"datum":100}}},
{"data":{"values":[{}]},"mark":"rect","encoding":{"x":{"datum":0.912},"x2":{"datum":1.0196},"y":{"datum":-0.5},"y2":{"datum":100}}}
]},
{"width":166,"height":77,"title":"E","layer":[
{"data":{"name":"tr"},"transform":[{"filter":"datum.p=='E'&&datum.s"}],"mark":{"type":"area","interpolate":"monotone"},"encoding":{"x":{"field":"x","type":"quantitative","scale":{"domain":[0.8907,0.9996]},"axis":{"values":[0.9,0.92,0.94],"format":".2f","title":"1/K₀ [V·s/cm²]"}},"y":{"field":"y","type":"quantitative","scale":{"domain":[-0.5,100]},"stack":null,"axis":{"title":"Relative Intensity"}},"color":{"field":"s","type":"nominal","scale":{"domain":["D","L","DL","DL2","D2"],"range":["#ed1c24","#1ba1e2","#fbb616","#fbb616","#ed1c24"]},"legend":null}}},
{"data":{"name":"tr"},"transform":[{"filter":"datum.p=='E'"},{"aggregate":[{"op":"max","field":"y","as":"y"}],"groupby":["x"]}],"mark":{"type":"line","interpolate":"monotone","color":"#222","strokeWidth":0.8},"encoding":{"x":{"field":"x","type":"quantitative"},"y":{"field":"y","type":"quantitative"}}},
{"data":{"name":"lab"},"transform":[{"filter":"datum.p=='E'"}],"mark":{"type":"text","color":"#fff","fontSize":10.5,"dy":-3,"baseline":"alphabetic"},"encoding":{"x":{"field":"x","type":"quantitative"},"y":{"datum":-0.5},"text":{"field":"t"}}},
{"data":{"values":[{}]},"mark":{"type":"text","text":"Asn","align":"left","baseline":"top","dx":5,"dy":5,"fontSize":11},"encoding":{"x":{"datum":0.8907},"y":{"datum":100}}},
{"data":{"values":[{}]},"mark":"rect","encoding":{"x":{"datum":0.8907},"x2":{"datum":0.9996},"y":{"datum":-0.5},"y2":{"datum":100}}}
]},
{"width":166,"height":77,"title":"F","layer":[
{"data":{"name":"tr"},"transform":[{"filter":"datum.p=='F'&&datum.s"}],"mark":{"type":"area","interpolate":"monotone"},"encoding":{"x":{"field":"x","type":"quantitative","scale":{"domain":[0.8713,1.0]},"axis":{"values":[0.88,0.9,0.92,0.94],"format":".2f","title":"1/K₀ [V·s/cm²]"}},"y":{"field":"y","type":"quantitative","scale":{"domain":[-0.5,100]},"stack":null,"axis":{"title":"Relative Intensity"}},"color":{"field":"s","type":"nominal","scale":{"domain":["D","L","DL","DL2","D2"],"range":["#ed1c24","#1ba1e2","#fbb616","#fbb616","#ed1c24"]},"legend":null}}},
{"data":{"name":"tr"},"transform":[{"filter":"datum.p=='F'"},{"aggregate":[{"op":"max","field":"y","as":"y"}],"groupby":["x"]}],"mark":{"type":"line","interpolate":"monotone","color":"#222","strokeWidth":0.8},"encoding":{"x":{"field":"x","type":"quantitative"},"y":{"field":"y","type":"quantitative"}}},
{"data":{"name":"lab"},"transform":[{"filter":"datum.p=='F'"}],"mark":{"type":"text","color":"#fff","fontSize":10.5,"dy":-3,"baseline":"alphabetic"},"encoding":{"x":{"field":"x","type":"quantitative"},"y":{"datum":-0.5},"text":{"field":"t"}}},
{"data":{"values":[{}]},"mark":{"type":"text","text":"Asp","align":"left","baseline":"top","dx":5,"dy":5,"fontSize":11},"encoding":{"x":{"datum":0.8713},"y":{"datum":100}}},
{"data":{"values":[{}]},"mark":"rect","encoding":{"x":{"datum":0.8713},"x2":{"datum":1.0},"y":{"datum":-0.5},"y2":{"datum":100}}}
]},
{"width":166,"height":77,"title":"G","layer":[
{"data":{"name":"tr"},"transform":[{"filter":"datum.p=='G'&&datum.s"}],"mark":{"type":"area","interpolate":"monotone"},"encoding":{"x":{"field":"x","type":"quantitative","scale":{"domain":[0.9131,1.0274]},"axis":{"values":[0.92,0.96],"format":".2f","title":"1/K₀ [V·s/cm²]"}},"y":{"field":"y","type":"quantitative","scale":{"domain":[-0.5,100]},"stack":null,"axis":{"title":"Relative Intensity"}},"color":{"field":"s","type":"nominal","scale":{"domain":["D","L","DL","DL2","D2"],"range":["#ed1c24","#1ba1e2","#fbb616","#fbb616","#ed1c24"]},"legend":null}}},
{"data":{"name":"tr"},"transform":[{"filter":"datum.p=='G'"},{"aggregate":[{"op":"max","field":"y","as":"y"}],"groupby":["x"]}],"mark":{"type":"line","interpolate":"monotone","color":"#222","strokeWidth":0.8},"encoding":{"x":{"field":"x","type":"quantitative"},"y":{"field":"y","type":"quantitative"}}},
{"data":{"name":"lab"},"transform":[{"filter":"datum.p=='G'"}],"mark":{"type":"text","color":"#fff","fontSize":10.5,"dy":-3,"baseline":"alphabetic"},"encoding":{"x":{"field":"x","type":"quantitative"},"y":{"datum":-0.5},"text":{"field":"t"}}},
{"data":{"values":[{}]},"mark":{"type":"text","text":"◂ L","fontSize":10,"baseline":"alphabetic"},"encoding":{"x":{"datum":0.9885},"y":{"datum":5}}},
{"data":{"values":[{}]},"mark":{"type":"text","text":"His","align":"left","baseline":"top","dx":5,"dy":5,"fontSize":11},"encoding":{"x":{"datum":0.9131},"y":{"datum":100}}},
{"data":{"values":[{}]},"mark":"rect","encoding":{"x":{"datum":0.9131},"x2":{"datum":1.0274},"y":{"datum":-0.5},"y2":{"datum":100}}}
]},
{"width":166,"height":77,"title":"H","layer":[
{"data":{"name":"tr"},"transform":[{"filter":"datum.p=='H'&&datum.s"}],"mark":{"type":"area","interpolate":"monotone"},"encoding":{"x":{"field":"x","type":"quantitative","scale":{"domain":[0.9136,1.0318]},"axis":{"values":[0.92,0.94,0.96,0.98],"format":".2f","title":"1/K₀ [V·s/cm²]"}},"y":{"field":"y","type":"quantitative","scale":{"domain":[-0.5,100]},"stack":null,"axis":{"title":"Relative Intensity"}},"color":{"field":"s","type":"nominal","scale":{"domain":["D","L","DL","DL2","D2"],"range":["#ed1c24","#1ba1e2","#fbb616","#fbb616","#ed1c24"]},"legend":null}}},
{"data":{"name":"tr"},"transform":[{"filter":"datum.p=='H'"},{"aggregate":[{"op":"max","field":"y","as":"y"}],"groupby":["x"]}],"mark":{"type":"line","interpolate":"monotone","color":"#222","strokeWidth":0.8},"encoding":{"x":{"field":"x","type":"quantitative"},"y":{"field":"y","type":"quantitative"}}},
{"data":{"name":"lab"},"transform":[{"filter":"datum.p=='H'"}],"mark":{"type":"text","color":"#fff","fontSize":10.5,"dy":-3,"baseline":"alphabetic"},"encoding":{"x":{"field":"x","type":"quantitative"},"y":{"datum":-0.5},"text":{"field":"t"}}},
{"data":{"values":[{}]},"mark":{"type":"text","text":"Ile","align":"left","baseline":"top","dx":5,"dy":5,"fontSize":11},"encoding":{"x":{"datum":0.9136},"y":{"datum":100}}},
{"data":{"values":[{}]},"mark":"rect","encoding":{"x":{"datum":0.9136},"x2":{"datum":1.0318},"y":{"datum":-0.5},"y2":{"datum":100}}}
]},
{"width":166,"height":77,"title":"I","layer":[
{"data":{"name":"tr"},"transform":[{"filter":"datum.p=='I'&&datum.s"}],"mark":{"type":"area","interpolate":"monotone"},"encoding":{"x":{"field":"x","type":"quantitative","scale":{"domain":[0.93385,1.0444]},"axis":{"values":[0.94,0.96,0.98],"format":".2f","title":"1/K₀ [V·s/cm²]"}},"y":{"field":"y","type":"quantitative","scale":{"domain":[-0.5,100]},"stack":null,"axis":{"title":"Relative Intensity"}},"color":{"field":"s","type":"nominal","scale":{"domain":["D","L","DL","DL2","D2"],"range":["#ed1c24","#1ba1e2","#fbb616","#fbb616","#ed1c24"]},"legend":null}}},
{"data":{"name":"tr"},"transform":[{"filter":"datum.p=='I'"},{"aggregate":[{"op":"max","field":"y","as":"y"}],"groupby":["x"]}],"mark":{"type":"line","interpolate":"monotone","color":"#222","strokeWidth":0.8},"encoding":{"x":{"field":"x","type":"quantitative"},"y":{"field":"y","type":"quantitative"}}},
{"data":{"name":"lab"},"transform":[{"filter":"datum.p=='I'"}],"mark":{"type":"text","color":"#fff","fontSize":10.5,"dy":-3,"baseline":"alphabetic"},"encoding":{"x":{"field":"x","type":"quantitative"},"y":{"datum":-0.5},"text":{"field":"t"}}},
{"data":{"values":[{}]},"mark":{"type":"text","text":"Leu","align":"left","baseline":"top","dx":5,"dy":5,"fontSize":11},"encoding":{"x":{"datum":0.93385},"y":{"datum":100}}},
{"data":{"values":[{}]},"mark":"rect","encoding":{"x":{"datum":0.93385},"x2":{"datum":1.0444},"y":{"datum":-0.5},"y2":{"datum":100}}}
]},
{"width":166,"height":77,"title":"J","layer":[
{"data":{"name":"tr"},"transform":[{"filter":"datum.p=='J'&&datum.s"}],"mark":{"type":"area","interpolate":"monotone"},"encoding":{"x":{"field":"x","type":"quantitative","scale":{"domain":[0.8903,1.005]},"axis":{"values":[0.9,0.92,0.94],"format":".2f","title":"1/K₀ [V·s/cm²]"}},"y":{"field":"y","type":"quantitative","scale":{"domain":[-0.5,100]},"stack":null,"axis":{"title":"Relative Intensity"}},"color":{"field":"s","type":"nominal","scale":{"domain":["D","L","DL","DL2","D2"],"range":["#ed1c24","#1ba1e2","#fbb616","#fbb616","#ed1c24"]},"legend":null}}},
{"data":{"name":"tr"},"transform":[{"filter":"datum.p=='J'"},{"aggregate":[{"op":"max","field":"y","as":"y"}],"groupby":["x"]}],"mark":{"type":"line","interpolate":"monotone","color":"#222","strokeWidth":0.8},"encoding":{"x":{"field":"x","type":"quantitative"},"y":{"field":"y","type":"quantitative"}}},
{"data":{"name":"lab"},"transform":[{"filter":"datum.p=='J'"}],"mark":{"type":"text","color":"#fff","fontSize":10.5,"dy":-3,"baseline":"alphabetic"},"encoding":{"x":{"field":"x","type":"quantitative"},"y":{"datum":-0.5},"text":{"field":"t"}}},
{"data":{"values":[{}]},"mark":{"type":"text","text":"Lys","align":"left","baseline":"top","dx":5,"dy":5,"fontSize":11},"encoding":{"x":{"datum":0.8903},"y":{"datum":100}}},
{"data":{"values":[{}]},"mark":"rect","encoding":{"x":{"datum":0.8903},"x2":{"datum":1.005},"y":{"datum":-0.5},"y2":{"datum":100}}}
]},
{"width":166,"height":77,"title":"K","layer":[
{"data":{"name":"tr"},"transform":[{"filter":"datum.p=='K'&&datum.s"}],"mark":{"type":"area","interpolate":"monotone"},"encoding":{"x":{"field":"x","type":"quantitative","scale":{"domain":[0.8753,0.9925]},"axis":{"values":[0.88,0.9,0.92,0.94],"format":".2f","title":"1/K₀ [V·s/cm²]"}},"y":{"field":"y","type":"quantitative","scale":{"domain":[-0.5,100]},"stack":null,"axis":{"title":"Relative Intensity"}},"color":{"field":"s","type":"nominal","scale":{"domain":["D","L","DL","DL2","D2"],"range":["#ed1c24","#1ba1e2","#fbb616","#fbb616","#ed1c24"]},"legend":null}}},
{"data":{"name":"tr"},"transform":[{"filter":"datum.p=='K'"},{"aggregate":[{"op":"max","field":"y","as":"y"}],"groupby":["x"]}],"mark":{"type":"line","interpolate":"monotone","color":"#222","strokeWidth":0.8},"encoding":{"x":{"field":"x","type":"quantitative"},"y":{"field":"y","type":"quantitative"}}},
{"data":{"name":"lab"},"transform":[{"filter":"datum.p=='K'"}],"mark":{"type":"text","color":"#fff","fontSize":10.5,"dy":-3,"baseline":"alphabetic"},"encoding":{"x":{"field":"x","type":"quantitative"},"y":{"datum":-0.5},"text":{"field":"t"}}},
{"data":{"values":[{}]},"mark":{"type":"text","text":"Pro","align":"left","baseline":"top","dx":5,"dy":5,"fontSize":11},"encoding":{"x":{"datum":0.8753},"y":{"datum":100}}},
{"data":{"values":[{}]},"mark":"rect","encoding":{"x":{"datum":0.8753},"x2":{"datum":0.9925},"y":{"datum":-0.5},"y2":{"datum":100}}}
]},
{"width":166,"height":77,"title":"L","layer":[
{"data":{"name":"tr"},"transform":[{"filter":"datum.p=='L'&&datum.s"}],"mark":{"type":"area","interpolate":"monotone"},"encoding":{"x":{"field":"x","type":"quantitative","scale":{"domain":[0.8472,0.9711]},"axis":{"values":[0.86,0.88,0.9],"format":".2f","title":"1/K₀ [V·s/cm²]"}},"y":{"field":"y","type":"quantitative","scale":{"domain":[-0.5,100]},"stack":null,"axis":{"title":"Relative Intensity"}},"color":{"field":"s","type":"nominal","scale":{"domain":["D","L","DL","DL2","D2"],"range":["#ed1c24","#1ba1e2","#fbb616","#fbb616","#ed1c24"]},"legend":null}}},
{"data":{"name":"tr"},"transform":[{"filter":"datum.p=='L'"},{"aggregate":[{"op":"max","field":"y","as":"y"}],"groupby":["x"]}],"mark":{"type":"line","interpolate":"monotone","color":"#222","strokeWidth":0.8},"encoding":{"x":{"field":"x","type":"quantitative"},"y":{"field":"y","type":"quantitative"}}},
{"data":{"name":"lab"},"transform":[{"filter":"datum.p=='L'"}],"mark":{"type":"text","color":"#fff","fontSize":10.5,"dy":-3,"baseline":"alphabetic"},"encoding":{"x":{"field":"x","type":"quantitative"},"y":{"datum":-0.5},"text":{"field":"t"}}},
{"data":{"values":[{}]},"mark":{"type":"text","text":"Ser","align":"left","baseline":"top","dx":5,"dy":5,"fontSize":11},"encoding":{"x":{"datum":0.8472},"y":{"datum":100}}},
{"data":{"values":[{}]},"mark":"rect","encoding":{"x":{"datum":0.8472},"x2":{"datum":0.9711},"y":{"datum":-0.5},"y2":{"datum":100}}}
]},
{"width":166,"height":77,"title":"M","layer":[
{"data":{"name":"tr"},"transform":[{"filter":"datum.p=='M'&&datum.s"}],"mark":{"type":"area","interpolate":"monotone"},"encoding":{"x":{"field":"x","type":"quantitative","scale":{"domain":[0.9264,1.0139]},"axis":{"values":[0.94,0.96],"format":".2f","title":"1/K₀ [V·s/cm²]"}},"y":{"field":"y","type":"quantitative","scale":{"domain":[-0.5,100]},"stack":null,"axis":{"title":"Relative Intensity"}},"color":{"field":"s","type":"nominal","scale":{"domain":["D","L","DL","DL2","D2"],"range":["#ed1c24","#1ba1e2","#fbb616","#fbb616","#ed1c24"]},"legend":null}}},
{"data":{"name":"tr"},"transform":[{"filter":"datum.p=='M'"},{"aggregate":[{"op":"max","field":"y","as":"y"}],"groupby":["x"]}],"mark":{"type":"line","interpolate":"monotone","color":"#222","strokeWidth":0.8},"encoding":{"x":{"field":"x","type":"quantitative"},"y":{"field":"y","type":"quantitative"}}},
{"data":{"name":"lab"},"transform":[{"filter":"datum.p=='M'"}],"mark":{"type":"text","color":"#fff","fontSize":10.5,"dy":-3,"baseline":"alphabetic"},"encoding":{"x":{"field":"x","type":"quantitative"},"y":{"datum":-0.5},"text":{"field":"t"}}},
{"data":{"values":[{}]},"mark":{"type":"text","text":"Met","align":"left","baseline":"top","dx":5,"dy":5,"fontSize":11},"encoding":{"x":{"datum":0.9264},"y":{"datum":100}}},
{"data":{"values":[{}]},"mark":"rect","encoding":{"x":{"datum":0.9264},"x2":{"datum":1.0139},"y":{"datum":-0.5},"y2":{"datum":100}}}
]},
{"width":166,"height":77,"title":"N","layer":[
{"data":{"name":"tr"},"transform":[{"filter":"datum.p=='N'&&datum.s"}],"mark":{"type":"area","interpolate":"monotone"},"encoding":{"x":{"field":"x","type":"quantitative","scale":{"domain":[0.9345,1.0505]},"axis":{"values":[0.94,0.96,0.98],"format":".2f","title":"1/K₀ [V·s/cm²]"}},"y":{"field":"y","type":"quantitative","scale":{"domain":[-0.5,100]},"stack":null,"axis":{"title":"Relative Intensity"}},"color":{"field":"s","type":"nominal","scale":{"domain":["D","L","DL","DL2","D2"],"range":["#ed1c24","#1ba1e2","#fbb616","#fbb616","#ed1c24"]},"legend":null}}},
{"data":{"name":"tr"},"transform":[{"filter":"datum.p=='N'"},{"aggregate":[{"op":"max","field":"y","as":"y"}],"groupby":["x"]}],"mark":{"type":"line","interpolate":"monotone","color":"#222","strokeWidth":0.8},"encoding":{"x":{"field":"x","type":"quantitative"},"y":{"field":"y","type":"quantitative"}}},
{"data":{"name":"lab"},"transform":[{"filter":"datum.p=='N'"}],"mark":{"type":"text","color":"#fff","fontSize":10.5,"dy":-3,"baseline":"alphabetic"},"encoding":{"x":{"field":"x","type":"quantitative"},"y":{"datum":-0.5},"text":{"field":"t"}}},
{"data":{"values":[{}]},"mark":{"type":"text","text":"Phe","align":"left","baseline":"top","dx":5,"dy":5,"fontSize":11},"encoding":{"x":{"datum":0.9345},"y":{"datum":100}}},
{"data":{"values":[{}]},"mark":"rect","encoding":{"x":{"datum":0.9345},"x2":{"datum":1.0505},"y":{"datum":-0.5},"y2":{"datum":100}}}
]},
{"width":166,"height":77,"title":"O","layer":[
{"data":{"name":"tr"},"transform":[{"filter":"datum.p=='O'&&datum.s"}],"mark":{"type":"area","interpolate":"monotone"},"encoding":{"x":{"field":"x","type":"quantitative","scale":{"domain":[0.8907,1.0018]},"axis":{"values":[0.9,0.92,0.94],"format":".2f","title":"1/K₀ [V·s/cm²]"}},"y":{"field":"y","type":"quantitative","scale":{"domain":[-0.5,100]},"stack":null,"axis":{"title":"Relative Intensity"}},"color":{"field":"s","type":"nominal","scale":{"domain":["D","L","DL","DL2","D2"],"range":["#ed1c24","#1ba1e2","#fbb616","#fbb616","#ed1c24"]},"legend":null}}},
{"data":{"name":"tr"},"transform":[{"filter":"datum.p=='O'"},{"aggregate":[{"op":"max","field":"y","as":"y"}],"groupby":["x"]}],"mark":{"type":"line","interpolate":"monotone","color":"#222","strokeWidth":0.8},"encoding":{"x":{"field":"x","type":"quantitative"},"y":{"field":"y","type":"quantitative"}}},
{"data":{"name":"lab"},"transform":[{"filter":"datum.p=='O'"}],"mark":{"type":"text","color":"#fff","fontSize":10.5,"dy":-3,"baseline":"alphabetic"},"encoding":{"x":{"field":"x","type":"quantitative"},"y":{"datum":-0.5},"text":{"field":"t"}}},
{"data":{"values":[{}]},"mark":{"type":"text","text":"Thr","align":"left","baseline":"top","dx":5,"dy":5,"fontSize":11},"encoding":{"x":{"datum":0.8907},"y":{"datum":100}}},
{"data":{"values":[{}]},"mark":"rect","encoding":{"x":{"datum":0.8907},"x2":{"datum":1.0018},"y":{"datum":-0.5},"y2":{"datum":100}}}
]},
{"width":166,"height":77,"title":"P","layer":[
{"data":{"name":"tr"},"transform":[{"filter":"datum.p=='P'&&datum.s"}],"mark":{"type":"area","interpolate":"monotone"},"encoding":{"x":{"field":"x","type":"quantitative","scale":{"domain":[0.97365,1.0918]},"axis":{"values":[0.98,1.0,1.02],"format":".2f","title":"1/K₀ [V·s/cm²]"}},"y":{"field":"y","type":"quantitative","scale":{"domain":[-0.5,100]},"stack":null,"axis":{"title":"Relative Intensity"}},"color":{"field":"s","type":"nominal","scale":{"domain":["D","L","DL","DL2","D2"],"range":["#ed1c24","#1ba1e2","#fbb616","#fbb616","#ed1c24"]},"legend":null}}},
{"data":{"name":"tr"},"transform":[{"filter":"datum.p=='P'"},{"aggregate":[{"op":"max","field":"y","as":"y"}],"groupby":["x"]}],"mark":{"type":"line","interpolate":"monotone","color":"#222","strokeWidth":0.8},"encoding":{"x":{"field":"x","type":"quantitative"},"y":{"field":"y","type":"quantitative"}}},
{"data":{"name":"lab"},"transform":[{"filter":"datum.p=='P'"}],"mark":{"type":"text","color":"#fff","fontSize":10.5,"dy":-3,"baseline":"alphabetic"},"encoding":{"x":{"field":"x","type":"quantitative"},"y":{"datum":-0.5},"text":{"field":"t"}}},
{"data":{"values":[{}]},"mark":{"type":"text","text":"Trp","align":"left","baseline":"top","dx":5,"dy":5,"fontSize":11},"encoding":{"x":{"datum":0.97365},"y":{"datum":100}}},
{"data":{"values":[{}]},"mark":"rect","encoding":{"x":{"datum":0.97365},"x2":{"datum":1.0918},"y":{"datum":-0.5},"y2":{"datum":100}}}
]},
{"width":166,"height":77,"title":"Q","layer":[
{"data":{"name":"tr"},"transform":[{"filter":"datum.p=='Q'&&datum.s"}],"mark":{"type":"area","interpolate":"monotone"},"encoding":{"x":{"field":"x","type":"quantitative","scale":{"domain":[1.083,1.20875]},"axis":{"values":[1.1,1.12,1.14],"format":".2f","title":"1/K₀ [V·s/cm²]"}},"y":{"field":"y","type":"quantitative","scale":{"domain":[-0.5,100]},"stack":null,"axis":{"title":"Relative Intensity"}},"color":{"field":"s","type":"nominal","scale":{"domain":["D","L","DL","DL2","D2"],"range":["#ed1c24","#1ba1e2","#fbb616","#fbb616","#ed1c24"]},"legend":null}}},
{"data":{"name":"tr"},"transform":[{"filter":"datum.p=='Q'"},{"aggregate":[{"op":"max","field":"y","as":"y"}],"groupby":["x"]}],"mark":{"type":"line","interpolate":"monotone","color":"#222","strokeWidth":0.8},"encoding":{"x":{"field":"x","type":"quantitative"},"y":{"field":"y","type":"quantitative"}}},
{"data":{"name":"lab"},"transform":[{"filter":"datum.p=='Q'"}],"mark":{"type":"text","color":"#fff","fontSize":10.5,"dy":-3,"baseline":"alphabetic"},"encoding":{"x":{"field":"x","type":"quantitative"},"y":{"datum":-0.5},"text":{"field":"t"}}},
{"data":{"values":[{}]},"mark":{"type":"text","text":"Cys (di)","align":"left","baseline":"top","dx":5,"dy":5,"fontSize":11},"encoding":{"x":{"datum":1.083},"y":{"datum":100}}},
{"data":{"values":[{}]},"mark":"rect","encoding":{"x":{"datum":1.083},"x2":{"datum":1.20875},"y":{"datum":-0.5},"y2":{"datum":100}}}
]},
{"width":166,"height":77,"title":"R","layer":[
{"data":{"name":"tr"},"transform":[{"filter":"datum.p=='R'&&datum.s"}],"mark":{"type":"area","interpolate":"monotone"},"encoding":{"x":{"field":"x","type":"quantitative","scale":{"domain":[0.89835,1.0165]},"axis":{"values":[0.92,0.94,0.96],"format":".2f","title":"1/K₀ [V·s/cm²]"}},"y":{"field":"y","type":"quantitative","scale":{"domain":[-0.5,100]},"stack":null,"axis":{"title":"Relative Intensity"}},"color":{"field":"s","type":"nominal","scale":{"domain":["D","L","DL","DL2","D2"],"range":["#ed1c24","#1ba1e2","#fbb616","#fbb616","#ed1c24"]},"legend":null}}},
{"data":{"name":"tr"},"transform":[{"filter":"datum.p=='R'"},{"aggregate":[{"op":"max","field":"y","as":"y"}],"groupby":["x"]}],"mark":{"type":"line","interpolate":"monotone","color":"#222","strokeWidth":0.8},"encoding":{"x":{"field":"x","type":"quantitative"},"y":{"field":"y","type":"quantitative"}}},
{"data":{"name":"lab"},"transform":[{"filter":"datum.p=='R'"}],"mark":{"type":"text","color":"#fff","fontSize":10.5,"dy":-3,"baseline":"alphabetic"},"encoding":{"x":{"field":"x","type":"quantitative"},"y":{"datum":-0.5},"text":{"field":"t"}}},
{"data":{"values":[{}]},"mark":{"type":"text","text":"Val","align":"left","baseline":"top","dx":5,"dy":5,"fontSize":11},"encoding":{"x":{"datum":0.89835},"y":{"datum":100}}},
{"data":{"values":[{}]},"mark":"rect","encoding":{"x":{"datum":0.89835},"x2":{"datum":1.0165},"y":{"datum":-0.5},"y2":{"datum":100}}}
]},
{"width":166,"height":77,"title":"S","layer":[
{"data":{"name":"tr"},"transform":[{"filter":"datum.p=='S'&&datum.s"}],"mark":{"type":"area","interpolate":"monotone"},"encoding":{"x":{"field":"x","type":"quantitative","scale":{"domain":[0.8992,1.098]},"axis":{"values":[0.95,1.0],"format":".2f","title":"1/K₀ [V·s/cm²]"}},"y":{"field":"y","type":"quantitative","scale":{"domain":[-0.5,100]},"stack":null,"axis":{"title":"Relative Intensity"}},"color":{"field":"s","type":"nominal","scale":{"domain":["D","L","DL","DL2","D2"],"range":["#ed1c24","#1ba1e2","#fbb616","#fbb616","#ed1c24"]},"legend":null}}},
{"data":{"name":"tr"},"transform":[{"filter":"datum.p=='S'"},{"aggregate":[{"op":"max","field":"y","as":"y"}],"groupby":["x"]}],"mark":{"type":"line","interpolate":"monotone","color":"#222","strokeWidth":0.8},"encoding":{"x":{"field":"x","type":"quantitative"},"y":{"field":"y","type":"quantitative"}}},
{"data":{"name":"lab"},"transform":[{"filter":"datum.p=='S'"}],"mark":{"type":"text","color":"#fff","fontSize":10.5,"dy":-3,"baseline":"alphabetic"},"encoding":{"x":{"field":"x","type":"quantitative"},"y":{"datum":-0.5},"text":{"field":"t"}}},
{"data":{"values":[{}]},"mark":{"type":"text","text":"DL","fontSize":10,"baseline":"alphabetic"},"encoding":{"x":{"datum":0.926},"y":{"datum":8}}},
{"data":{"values":[{}]},"mark":{"type":"text","text":"DL","fontSize":10,"baseline":"alphabetic"},"encoding":{"x":{"datum":0.9465},"y":{"datum":8}}},
{"data":{"values":[{}]},"mark":{"type":"text","text":"▸","fontSize":9,"baseline":"alphabetic"},"encoding":{"x":{"datum":0.939},"y":{"datum":2}}},
{"data":{"values":[{}]},"mark":{"type":"text","text":"▸","fontSize":9,"baseline":"alphabetic"},"encoding":{"x":{"datum":0.9595},"y":{"datum":3}}},
{"data":{"values":[{}]},"mark":{"type":"text","text":"◂D","fontSize":10,"baseline":"alphabetic"},"encoding":{"x":{"datum":1.039},"y":{"datum":10}}},
{"data":{"values":[{}]},"mark":{"type":"text","text":"Tyr","align":"left","baseline":"top","dx":5,"dy":5,"fontSize":11},"encoding":{"x":{"datum":0.8992},"y":{"datum":100}}},
{"data":{"values":[{}]},"mark":"rect","encoding":{"x":{"datum":0.8992},"x2":{"datum":1.098},"y":{"datum":-0.5},"y2":{"datum":100}}}
]},
{"width":153,"height":77,"title":{"text":"T","dx":-20},"view":{"stroke":null},"layer":[
{"data":{"name":"t"},"mark":{"type":"circle","color":"#ed1c24","size":14,"opacity":1},"encoding":{"x":{"field":"mz","type":"quantitative","scale":{"domain":[350,500,700,720],"range":[0,123,149,153]},"axis":{"values":[350,400,450,500,700],"format":"d","labelOverlap":false,"labelSeparation":0,"labelBound":false,"title":"m/z","titleFontStyle":"italic","titleAlign":"left","titleX":159}},"y":{"field":"r","type":"quantitative","scale":{"domain":[0,3.1]},"axis":{"values":[0,1,2,3],"format":"d","labels":true,"tickSize":3,"labelPadding":1.5,"title":"Rₚₚ","titleFontStyle":"italic","titleFontSize":9,"titleX":-11,"titleY":16}}}},
{"data":{"values":[{}]},"mark":{"type":"rule","color":"#000","strokeWidth":1.2},"encoding":{"y":{"datum":0,"type":"quantitative","axis":{"values":[0,1,2,3],"format":"d","labels":true,"tickSize":3,"labelPadding":1.5,"title":"Rₚₚ","titleFontStyle":"italic","titleFontSize":9,"titleX":-11,"titleY":16}}}},
{"data":{"values":[{}]},"mark":{"type":"rule","color":"#000","strokeWidth":1.2},"encoding":{"x":{"datum":350,"type":"quantitative","axis":{"values":[350,400,450,500,700],"format":"d","labelOverlap":false,"labelSeparation":0,"labelBound":false,"title":"m/z","titleFontStyle":"italic","titleAlign":"left","titleX":159}}}}
]}
]
}
